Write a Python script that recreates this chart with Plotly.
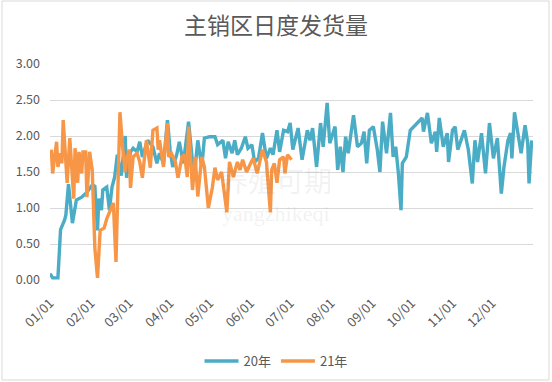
import pandas as pd
import plotly.graph_objects as go

# ---- data (day offsets from Jan 1, values) ----
y20_days = [0, 2, 6, 8, 11, 12, 14, 16, 17, 20, 24, 28, 32, 34, 36, 37, 39, 40, 43, 45,
            47, 49, 51, 54, 57, 58, 61, 63, 66, 68, 70, 74, 78, 81, 83, 86, 89, 91, 93, 96,
            98, 101, 105, 108, 110, 112, 115, 117, 121, 125, 127, 131, 133, 135, 138, 140, 142, 145, 148, 150,
            153, 155, 158, 161, 164, 167, 169, 172, 174, 177, 180, 182, 184, 188, 191, 195, 197, 199, 202, 205,
            207, 210, 212, 216, 218, 220, 222, 224, 226, 230, 233, 236, 238, 240, 242, 245, 248, 250, 252, 255,
            258, 260, 262, 264, 266, 267, 270, 273, 282, 283, 286, 289, 292, 293, 295, 298, 301, 302, 305, 307,
            309, 312, 314, 317, 320, 322, 324, 327, 330, 333, 336, 339, 342, 344, 347, 349, 350, 352, 355, 357,
            360, 362, 363, 365]
y20_vals = [0.09, 0.03, 0.03, 0.70, 0.83, 0.90, 1.33, 1.00, 0.79, 1.11, 1.15, 1.22, 1.32, 1.30, 0.69, 1.13, 0.97, 1.25, 1.29, 0.97,
            1.29, 1.43, 1.74, 1.45, 2.00, 1.42, 1.78, 1.83, 1.78, 1.92, 1.71, 1.94, 1.85, 1.62, 1.76, 1.62, 2.22, 1.81, 1.57, 1.74,
            1.92, 1.62, 2.20, 1.64, 1.57, 1.94, 1.57, 1.97, 1.99, 1.99, 1.88, 1.94, 1.69, 1.92, 1.76, 1.94, 1.74, 1.83, 1.99, 1.83,
            1.88, 1.64, 1.69, 2.04, 1.69, 1.83, 1.74, 2.08, 1.78, 2.08, 2.06, 2.18, 1.81, 2.11, 1.67, 2.08, 1.94, 2.11, 1.57, 2.18,
            1.85, 2.46, 1.90, 2.13, 1.53, 1.85, 1.50, 1.99, 1.76, 2.29, 1.85, 1.90, 2.06, 1.62, 2.08, 2.13, 1.81, 1.50, 2.20, 1.76,
            2.32, 1.71, 1.85, 1.48, 0.97, 1.62, 1.71, 2.08, 2.25, 2.06, 2.32, 1.90, 2.06, 1.78, 2.25, 1.85, 2.04, 1.64, 2.08, 2.13,
            1.81, 1.97, 2.08, 1.81, 1.34, 1.94, 1.64, 2.04, 1.48, 2.18, 1.69, 1.97, 1.20, 1.57, 1.94, 2.04, 1.69, 2.33, 1.94, 1.76,
            2.15, 1.90, 1.34, 1.94]

y21_days = [1, 2, 5, 6, 8, 9, 10, 12, 13, 15, 17, 18, 19, 21, 22, 24, 25, 27, 28, 30,
            32, 33, 34, 36, 38, 41, 43, 46, 48, 50, 53, 55, 57, 58, 60, 61, 63, 66, 68, 70,
            73, 76, 78, 81, 82, 83, 86, 89, 90, 92, 95, 97, 100, 102, 104, 105, 108, 110, 112, 115,
            117, 120, 123, 125, 127, 130, 134, 136, 139, 142, 144, 146, 149, 152, 154, 157, 159, 161, 164, 167,
            168, 170, 172, 174, 177, 178, 180, 183]
y21_vals = [1.81, 1.48, 1.92, 1.57, 1.76, 1.62, 2.22, 1.53, 1.35, 1.97, 1.48, 1.13, 1.83, 1.35, 1.78, 1.48, 1.78, 1.78, 1.15, 1.78,
            1.53, 0.79, 0.44, 0.03, 0.69, 0.72, 0.85, 0.98, 1.07, 0.25, 2.33, 1.85, 1.50, 1.67, 1.81, 1.28, 1.71, 1.76, 1.64, 1.42,
            1.94, 1.56, 2.08, 2.11, 1.81, 1.94, 1.57, 2.18, 1.71, 1.76, 1.64, 1.42, 1.71, 1.74, 1.43, 2.13, 1.25, 1.71, 1.16, 1.71,
            1.57, 1.00, 1.28, 1.56, 1.39, 1.50, 0.94, 1.64, 1.43, 1.64, 1.53, 1.67, 1.50, 1.62, 1.69, 1.48, 1.67, 1.81, 1.64, 0.94,
            1.53, 1.62, 1.35, 1.67, 1.71, 1.48, 1.74, 1.67]

series_names = ["20年", "21年"]
y_ticks = [0, 0.5, 1.0, 1.5, 2.0, 2.5, 3.0]
month_ticks = ["2020-%02d-01" % m for m in range(1, 13)]
month_labels = ["%02d/01" % m for m in range(1, 13)]
title_text = "主销区日度发货量"

base = pd.Timestamp("2020-01-01")
x20 = [base + pd.Timedelta(days=d) for d in y20_days]
x21 = [base + pd.Timedelta(days=d) for d in y21_days]

FONT = "Noto Sans CJK SC, Noto Sans, sans-serif"
GREY = "#595959"

fig = go.Figure()
fig.add_trace(go.Scatter(x=x20, y=y20_vals, mode="lines", name=series_names[0],
                         line=dict(color="#4bacc6", width=3.4)))
fig.add_trace(go.Scatter(x=x21, y=y21_vals, mode="lines", name=series_names[1],
                         line=dict(color="#f79646", width=3.4)))

W, H = 552, 382
L, R, T, B = 50, 19, 64, 102
pw, ph = W - L - R, H - T - B

def px_x(p):
    return (p - L) / pw

def px_y(p):
    return (H - B - p) / ph

fig.update_layout(
    width=W, height=H,
    margin=dict(l=L, r=R, t=T, b=B, autoexpand=False),
    paper_bgcolor="white", plot_bgcolor="white",
    font=dict(family=FONT, color=GREY, size=12),
    title=dict(text=title_text, x=0.5, xref="container", y=1 - 26 / H, yanchor="middle",
               font=dict(family=FONT, size=23, color=GREY)),
    showlegend=True,
    legend=dict(orientation="h", x=px_x(276), xanchor="center", y=px_y(361), yanchor="middle",
                font=dict(family=FONT, size=13, color=GREY), itemwidth=34),
    xaxis=dict(type="date", range=["2020-01-01", "2021-01-01"], tickvals=month_ticks, ticktext=month_labels,
               tickangle=-45, showgrid=False, zeroline=False, showline=False, automargin=False,
               ticks="", tickfont=dict(family=FONT, size=13, color=GREY), ticklabelstandoff=12),
    yaxis=dict(range=[0, 3], tickvals=y_ticks, tickformat=".2f", showgrid=True, gridcolor="#d9d9d9",
               gridwidth=1, zeroline=False, showline=False, ticks="", automargin=False,
               tickfont=dict(family=FONT, size=12.5, color=GREY), ticklabelstandoff=9),
)

# watermark
fig.add_annotation(text="养殖可期", xref="paper", yref="paper", x=px_x(276), y=px_y(180),
                   xanchor="center", yanchor="middle",
                   showarrow=False, font=dict(family=FONT, size=28, color="rgba(120,120,120,0.11)"))
fig.add_annotation(text="yangzhikeqi", xref="paper", yref="paper", x=px_x(276), y=px_y(213),
                   xanchor="center", yanchor="middle",
                   showarrow=False, font=dict(family="Liberation Serif, serif", size=22, color="rgba(120,120,120,0.11)"))

# chart border
fig.add_shape(type="rect", xref="paper", yref="paper",
              x0=px_x(2), x1=px_x(549), y0=px_y(380), y1=px_y(1),
              line=dict(color="#d9d9d9", width=1), fillcolor="rgba(0,0,0,0)", layer="below")

fig.write_html("out.html", config={"displayModeBar": False},
               post_script="document.body.style.margin='0';document.body.style.overflow='hidden';")
